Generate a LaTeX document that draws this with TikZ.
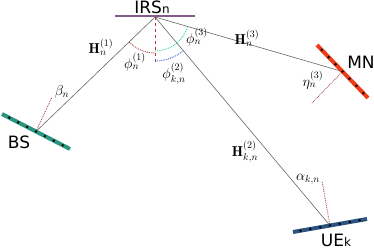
\documentclass[tikz,border=0pt]{standalone}
\usepackage{amsmath,amssymb}
\usepackage{fontspec}
\newfontfamily\devfont{DejaVu Sans}
\usepackage{tikz}
\usetikzlibrary{calc}

\definecolor{bsteal}{RGB}{42,150,128}
\definecolor{mnred}{RGB}{238,60,25}
\definecolor{uenavy}{RGB}{44,84,130}
\definecolor{irspurple}{RGB}{130,90,140}
\definecolor{normred}{RGB}{165,60,60}
\definecolor{arcgreen}{RGB}{45,210,160}
\definecolor{arcblue}{RGB}{60,90,220}

\begin{document}
\begin{tikzpicture}[x=1pt, y=1pt,
    link/.style={draw=gray!80!black, line width=0.6pt},
    panel/.style={line width=4pt},
    normal/.style={draw=normred, densely dotted, line width=0.8pt},
    devlabel/.style={font=\devfont\fontsize{17}{20}\selectfont, inner sep=0pt},
    mathlabel/.style={font=\fontsize{14.4}{17}\selectfont, inner sep=0pt},
    anglearc/.style={densely dotted, line width=0.9pt},
]
\useasboundingbox (0,0) rectangle (374,-250);

% =============================================
% Devices: reflection points and panel ends
% =============================================
\coordinate (irs) at (155,-17);
\coordinate (irsL) at (115,-15.5);
\coordinate (irsR) at (195,-15.5);
\coordinate (bs) at (36,-131.5);
\coordinate (bsend) at (70,-149);
\coordinate (mn) at (342.5,-71.5);
\coordinate (mnend) at (368,-98);
\coordinate (ue) at (330,-225.5);
\coordinate (ueend) at (367,-219);

% normal directions
\coordinate (irsnorm) at (155,-64);
\coordinate (bsnorm) at (52,-97);
\coordinate (mnnorm) at (312,-103);
\coordinate (uenorm) at (322,-181);

% =============================================
% Channels
% =============================================
\draw[link] (bs) -- (irs);
\draw[link] (irs) -- (mn);
\draw[link] (irs) -- (ue);

% normals
\draw[normal, dashed] (irs) -- (irsnorm);
\draw[normal] (bs) -- (bsnorm);
\draw[normal] (mn) -- (mnnorm);
\draw[normal] (ue) -- (uenorm);

% angle arcs at the IRS
\draw[anglearc, draw=normred] ($(irs)+(224:36)$) arc[start angle=224, end angle=270, radius=36];
\draw[anglearc, draw=arcgreen] ($(irs)+(270:34)$) arc[start angle=270, end angle=343.6, radius=34];
\draw[anglearc, draw=arcblue] ($(irs)+(270:44)$) arc[start angle=270, end angle=310, radius=44];

% =============================================
% Panels with elements
% =============================================
\draw[irspurple, line width=2pt] (irsL) -- (irsR);
\draw[panel, bsteal] ($(bs)!-1!(bsend)$) -- (bsend);
\draw[panel, mnred] ($(mn)!-1!(mnend)$) -- (mnend);
\draw[panel, uenavy] ($(ue)!-1!(ueend)$) -- (ueend);
\foreach \d in {-30,-20,...,30} {
    \fill ($(bs)!\d pt!(bsend)$) circle (1.4);
    \fill ($(mn)!\d pt!(mnend)$) circle (1.4);
    \fill ($(ue)!\d pt!(ueend)$) circle (1.4);
}

% =============================================
% Labels
% =============================================
\node[devlabel] (irslabel) at (152,-7) {IRS{\fontsize{12}{14}\selectfont n}};
\node[devlabel] (bslabel) at (19,-142) {BS};
\node[devlabel] (mnlabel) at (361,-62) {MN};
\node[devlabel] (uelabel) at (336,-240.5) {UE{\fontsize{12}{14}\selectfont k}};

\node[mathlabel] (h1) at (101,-47) {$\mathbf{H}_n^{(1)}$};
\node[mathlabel] (h3) at (247,-38) {$\mathbf{H}_n^{(3)}$};
\node[mathlabel] (h2) at (245,-152) {$\mathbf{H}_{k,n}^{(2)}$};

\node[mathlabel] (beta) at (62,-92) {$\beta_n$};
\node[mathlabel] (eta) at (313,-80) {$\eta_n^{(3)}$};
\node[mathlabel] (alpha) at (308,-179) {$\alpha_{k,n}$};

\node[mathlabel] (phi1) at (135,-62) {$\phi_n^{(1)}$};
\node[mathlabel] (phi3) at (197,-37) {$\phi_n^{(3)}$};
\node[mathlabel] (phi2) at (174,-74) {$\phi_{k,n}^{(2)}$};

\end{tikzpicture}
\end{document}
